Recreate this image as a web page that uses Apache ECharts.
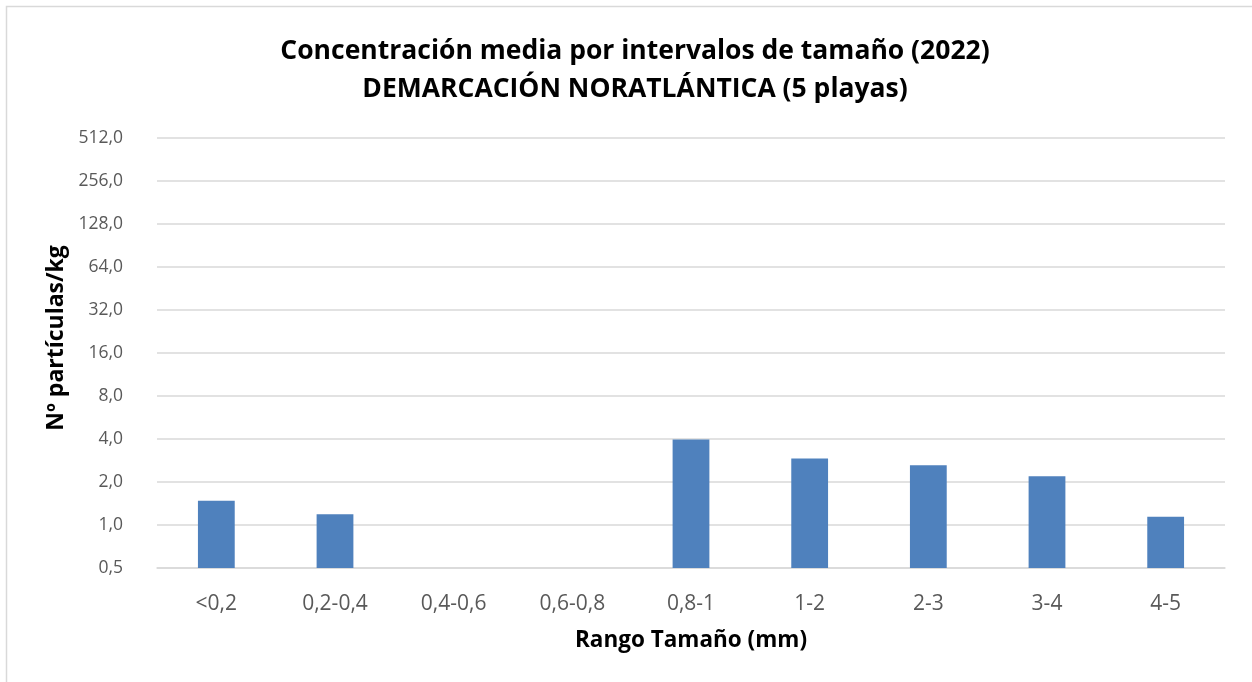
<!DOCTYPE html>
<html><head><meta charset="utf-8">
<script src="https://cdn.jsdelivr.net/npm/echarts@6/dist/echarts.min.js"></script>
<style>html,body{margin:0;padding:0;background:#fff}#c{width:1252px;height:682px}</style>
</head><body><div id="c"></div>
<script>
const categories = ['<0,2','0,2-0,4','0,4-0,6','0,6-0,8','0,8-1','1-2','2-3','3-4','4-5'];
const values = [1.48, 1.19, '-', '-', 3.96, 2.92, 2.62, 2.19, 1.14];
const titleLines = ['Concentración media por intervalos de tamaño (2022)', 'DEMARCACIÓN NORATLÁNTICA (5 playas)'];
const yName = 'Nº partículas/kg';
const xName = 'Rango Tamaño (mm)';
const font = '"Open Sans", Lato, sans-serif';
const chart = echarts.init(document.getElementById('c'));
chart.setOption({
  animation: false,
  backgroundColor: '#fff',
  graphic: [{type:'rect', shape:{x:6.5,y:6.5,width:1270,height:700}, style:{fill:'none', stroke:'#d9d9d9', lineWidth:1.5}, silent:true}],
  title: {
    text: titleLines.join('\n'), left: 630, top: 27, textAlign: 'center',
    textStyle: {fontFamily: font, fontSize: 26.5, fontWeight: 'bold', color: '#000', lineHeight: 38}
  },
  grid: {left: 157, right: 27, top: 138, bottom: 114},
  xAxis: {
    type: 'category', data: categories,
    name: xName, nameLocation: 'middle', nameGap: 61,
    nameTextStyle: {fontFamily: font, fontSize: 22.5, fontWeight: 'bold', color: '#000'},
    axisLine: {lineStyle: {color: '#d9d9d9', width: 1.5}},
    axisTick: {show: false},
    axisLabel: {fontFamily: font, fontSize: 21, color: '#595959', margin: 26}
  },
  yAxis: {
    type: 'log', logBase: 2, min: 0.5, max: 512, interval: 1, startValue: 0.5,
    name: yName, nameLocation: 'middle', nameGap: 86, nameRotate: 90,
    nameTextStyle: {fontFamily: font, fontSize: 23, fontWeight: 'bold', color: '#000', padding: [0, 0, 0, 30]},
    axisLine: {show: false}, axisTick: {show: false},
    splitLine: {lineStyle: {color: '#d9d9d9', width: 1.5}},
    axisLabel: {fontFamily: font, fontSize: 17.5, color: '#595959', margin: 34,
      formatter: v => Number(v).toFixed(1).replace('.', ',')}
  },
  series: [{
    type: 'bar', data: values, barWidth: '31%',
    itemStyle: {color: '#4f81bd'}
  }]
});
</script></body></html>
